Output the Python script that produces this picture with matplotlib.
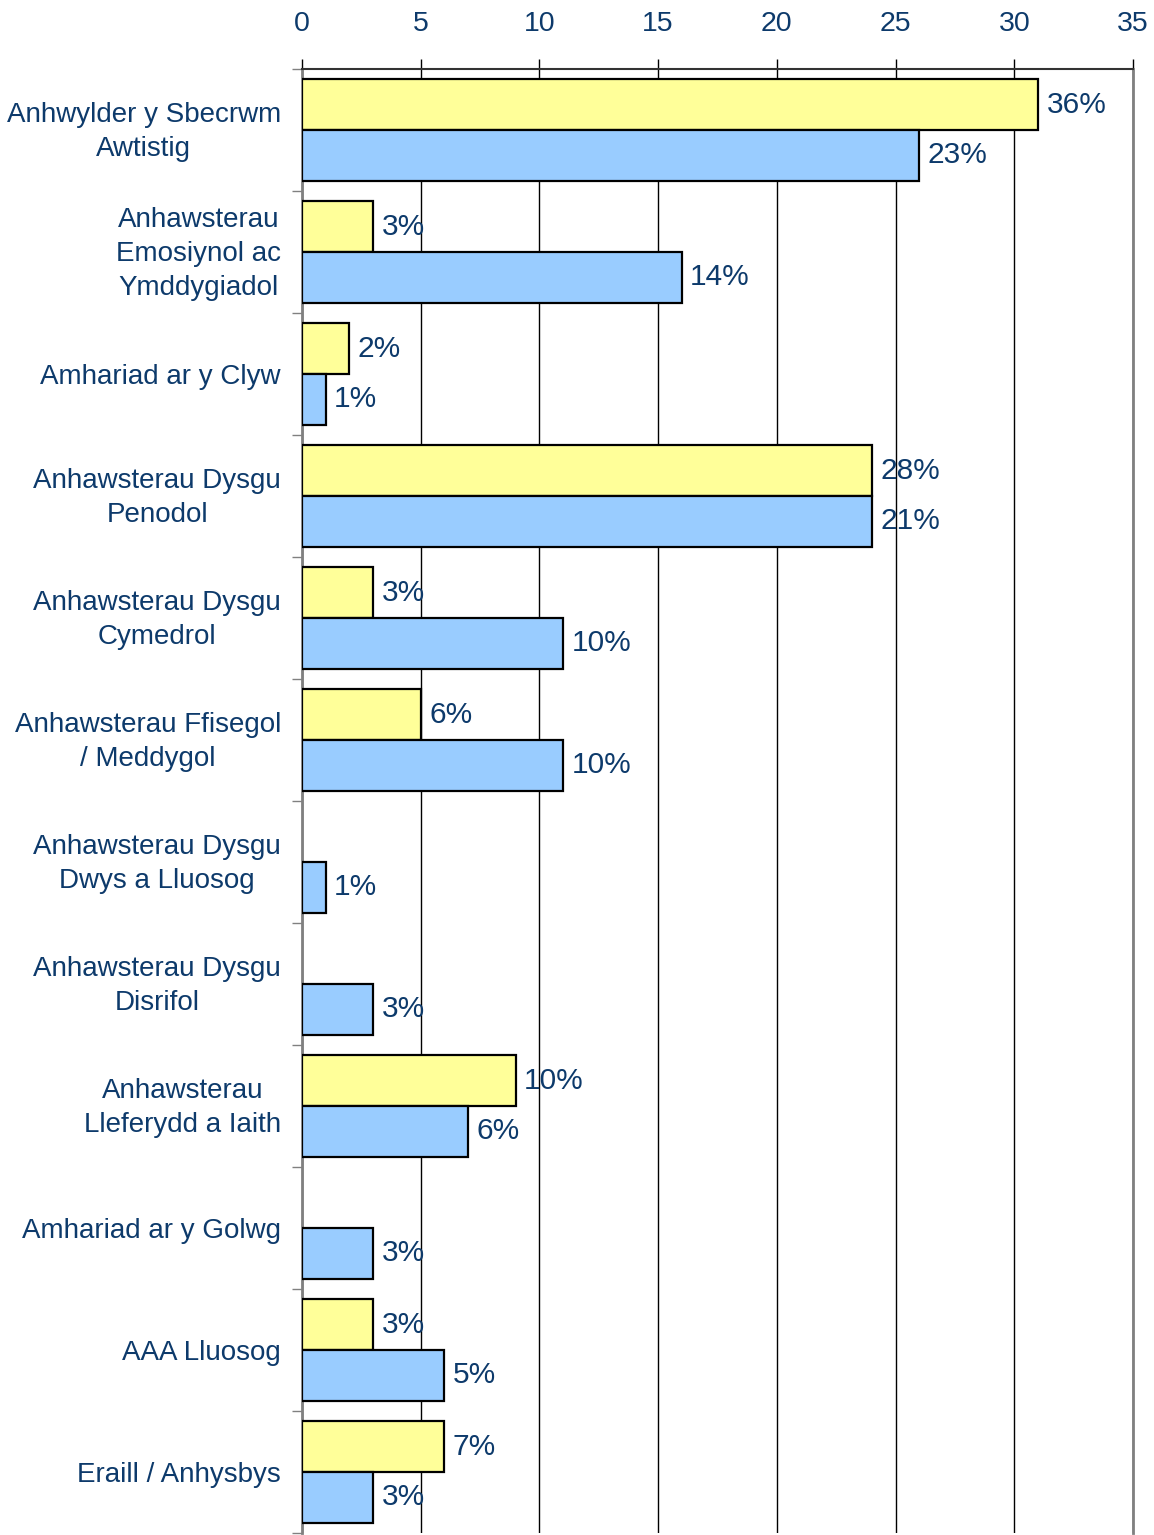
import matplotlib
matplotlib.use("Agg")
import matplotlib.pyplot as plt
import matplotlib.transforms as mtrans
import numpy as np

categories = [
    "Anhwylder y Sbecrwm\nAwtistig",
    "Anhawsterau\nEmosiynol ac\nYmddygiadol",
    "Amhariad ar y Clyw",
    "Anhawsterau Dysgu\nPenodol",
    "Anhawsterau Dysgu\nCymedrol",
    "Anhawsterau Ffisegol\n/ Meddygol",
    "Anhawsterau Dysgu\nDwys a Lluosog",
    "Anhawsterau Dysgu\nDisrifol",
    "Anhawsterau\nLleferydd a Iaith",
    "Amhariad ar y Golwg",
    "AAA Lluosog",
    "Eraill / Anhysbys",
]
yellow_values = [31, 3, 2, 24, 3, 5, 0, 0, 9, 0, 3, 6]
yellow_labels = ["36%", "3%", "2%", "28%", "3%", "6%", "", "", "10%", "", "3%", "7%"]
blue_values = [26, 16, 1, 24, 11, 11, 1, 3, 7, 3, 6, 3]
blue_labels = ["23%", "14%", "1%", "21%", "10%", "10%", "1%", "3%", "6%", "3%", "5%", "3%"]
x_ticks = [0, 5, 10, 15, 20, 25, 30, 35]

TXT = "#0d3a6b"
plt.rcParams['font.family'] = ['Liberation Sans', 'DejaVu Sans']

fig = plt.figure(figsize=(11.54, 15.35), dpi=100)
ax = fig.add_axes([302/1154, 1 - 1533/1535, (1133-302)/1154, (1533-69)/1535])

y = np.arange(len(categories))
h = 0.418
for i in range(len(categories)):
    if yellow_values[i] > 0:
        ax.barh(y[i] - h/2, yellow_values[i], height=h, color="#FFFF99",
                edgecolor="black", linewidth=1.6, zorder=3)
    ax.barh(y[i] + h/2, blue_values[i], height=h, color="#99CCFF",
            edgecolor="black", linewidth=1.6, zorder=3)
    if yellow_labels[i]:
        ax.annotate(yellow_labels[i], (yellow_values[i], y[i] - h/2),
                    xytext=(6, 0), textcoords="offset points",
                    va="center", ha="left", fontsize=21.5, color=TXT, zorder=4)
    if blue_labels[i]:
        ax.annotate(blue_labels[i], (blue_values[i], y[i] + h/2),
                    xytext=(6, 0), textcoords="offset points",
                    va="center", ha="left", fontsize=21.5, color=TXT, zorder=4)

ax.set_xlim(0, 35)
ax.set_ylim(len(categories) - 0.5, -0.5)
ax.xaxis.tick_top()
ax.set_xticks(x_ticks)
ax.set_xticklabels([str(t) for t in x_ticks], fontsize=20.5, color=TXT)
ax.tick_params(axis='x', length=7, width=1, pad=16, color="black")
ax.set_yticks(np.arange(len(categories) + 1) - 0.5)
ax.set_yticklabels([])
ax.tick_params(axis='y', which='major', length=7, width=1, color="#808080")

# category labels
ytrans = ax.get_yaxis_transform()
for i, lab in enumerate(categories):
    dy = -0.02 if "\n" in lab else -0.03
    off = mtrans.ScaledTranslation(-21 / 100, dy, fig.dpi_scale_trans)
    ax.text(0, y[i], lab, transform=ytrans + off, fontsize=20, color=TXT,
            ha="right", va="center", multialignment="center",
            linespacing=1.4, clip_on=False)

ax.grid(axis='x', color="black", linewidth=1, zorder=0)
for s in ["left", "right"]:
    ax.spines[s].set_color("#808080")
    ax.spines[s].set_linewidth(2)
ax.spines["top"].set_color("#333333")
ax.spines["top"].set_linewidth(1.5)
ax.spines["bottom"].set_visible(False)

fig.savefig("out.png", dpi=100)
